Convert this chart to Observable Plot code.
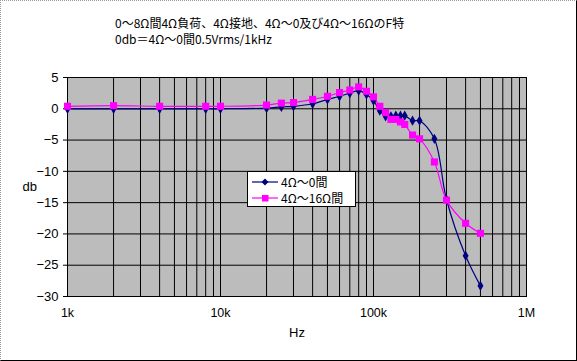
<!DOCTYPE html>
<html><head><meta charset="utf-8">
<script src="https://cdn.jsdelivr.net/npm/d3@7"></script>
<script src="https://cdn.jsdelivr.net/npm/@observablehq/plot@0.6"></script>
<style>
body{margin:0;background:#fff;}
#wrap{position:relative;width:577px;height:361px;overflow:hidden;font-family:"Noto Sans CJK JP","Liberation Sans",sans-serif;}
#title{position:absolute;left:115px;top:15px;font-size:12px;line-height:16px;color:#000;white-space:nowrap;}
#legend{position:absolute;left:247px;top:171px;width:107px;height:34px;background:#fff;border:1px solid #000;font-size:12px;line-height:15px;}
#legend .row{position:absolute;left:4px;height:15px;line-height:15px;display:flex;align-items:center;white-space:nowrap;overflow:visible;}
#legend svg{margin-right:3px;}
#border{position:absolute;left:0;top:0;width:577px;height:361px;box-sizing:border-box;border-left:1px dotted #999;border-top:1px dotted #999;border-right:1px solid #000;border-bottom:1px solid #000;pointer-events:none;}
</style></head>
<body>
<div id="wrap">
<div id="chart"></div>
<div id="title"></div>
<div id="legend"></div>
<div id="border"></div>
</div>
<script>
const titleLines = ["0～8Ω間4Ω負荷、4Ω接地、4Ω～0及び4Ω～16ΩのF特", "0db＝4Ω～0間0.5Vrms/1kHz"];
const xLabel = "Hz";
const yLabel = "db";
const seriesNames = ["4Ω～0間", "4Ω～16Ω間"];
const freqs = [1000,2000,4000,8000,10000,20000,25000,30000,40000,50000,60000,70000,80000,90000,100000,110000,120000,130000,140000,150000,160000,180000,200000,250000,300000,400000,500000];
const dbA = [0,0,0,0,0,0.1,0.3,0.4,0.8,1.5,2.0,2.5,2.9,2.3,1.3,-0.3,-1.2,-1.2,-1.1,-1.1,-1.1,-1.9,-1.9,-4.8,-14.5,-23.5,-28.3];
const dbB = [0.4,0.5,0.4,0.4,0.4,0.6,0.9,1.0,1.5,2.0,2.6,3.0,3.5,2.8,1.9,0.4,-0.6,-1.7,-1.7,-2.1,-2.5,-4.2,-4.8,-8.5,-14.6,-18.3,-19.9];
const xTickValues = [1000,10000,100000,1000000];
const xTickLabels = ["1k","10k","100k","1M"];
const xGrid = [1000,2000,3000,4000,5000,6000,7000,8000,9000,10000,20000,30000,40000,50000,60000,70000,80000,90000,100000,200000,300000,400000,500000,600000,700000,800000,900000,1000000];
const yTicks = [5,0,-5,-10,-15,-20,-25,-30];
const colors = ["#000080","#ff00ff"];

const A = freqs.map((f,i)=>({f, v: dbA[i]}));
const B = freqs.map((f,i)=>({f, v: dbB[i]}));

const plot = Plot.plot({
  width: 577, height: 361,
  marginLeft: 67, marginRight: 51, marginTop: 77, marginBottom: 65,
  style: {fontFamily: "'Liberation Sans', Arial, sans-serif", fontSize: "12.5px", color: "#000", background: "transparent"},
  x: {type: "log", domain: [1000, 1000000]},
  y: {domain: [-30, 5]},
  marks: [
    Plot.frame({fill: "url(#bgdots)"}),
    Plot.ruleX(xGrid, {stroke: "#000", strokeWidth: 1}),
    Plot.ruleY(yTicks, {stroke: "#000", strokeWidth: 1}),
    Plot.frame({stroke: "#000", strokeWidth: 1}),
    Plot.axisY(yTicks, {tickSize: 4, tickPadding: 5, label: null, fontSize: 13}),
    Plot.axisX(xTickValues, {tickSize: 0, tickPadding: 12, label: null, fontSize: 12.5, tickFormat: (d)=>xTickLabels[xTickValues.indexOf(d)]}),
    Plot.line(A, {x: "f", y: "v", stroke: colors[0], strokeWidth: 1.2, curve: "catmull-rom"}),
    Plot.line(B, {x: "f", y: "v", stroke: colors[1], strokeWidth: 1.2, curve: "catmull-rom"}),
    Plot.dot(A, {x: "f", y: "v", symbol: "diamond", r: 3.1, fill: colors[0], stroke: "none"}),
    Plot.dot(B, {x: "f", y: "v", symbol: "square", r: 4, fill: colors[1], stroke: "none"}),
    Plot.text([yLabel], {text: d=>d, frameAnchor: "left", dx: -45, fontSize: 13}),
    Plot.text([xLabel], {text: d=>d, frameAnchor: "bottom", dy: 40, fontSize: 13})
  ]
});
const ns = "http://www.w3.org/2000/svg";
const defs = document.createElementNS(ns, "defs");
defs.innerHTML = '<pattern id="bgdots" width="2" height="2" patternUnits="userSpaceOnUse"><rect width="2" height="2" fill="#cacaca"/><rect width="1" height="1" fill="#929292"/></pattern>';
plot.insertBefore(defs, plot.firstChild);
document.getElementById("chart").appendChild(plot);

document.getElementById("title").innerHTML = titleLines.map(t=>`<div>${t}</div>`).join("");

const leg = document.getElementById("legend");
const sym = [
  `<polygon points="13,1.5 16.5,5 13,8.5 9.5,5" fill="${colors[0]}"/>`,
  `<rect x="10" y="2" width="6.5" height="6.5" fill="${colors[1]}"/>`
];
seriesNames.forEach((name,i)=>{
  const row = document.createElement("div");
  row.className = "row";
  row.style.top = (i===0 ? 2 : 18) + "px";
  row.innerHTML = `<svg width="26" height="10"><line x1="0" y1="5" x2="26" y2="5" stroke="${colors[i]}" stroke-width="1.2"/>${sym[i]}</svg><span>${name}</span>`;
  leg.appendChild(row);
});
</script>
</body></html>
